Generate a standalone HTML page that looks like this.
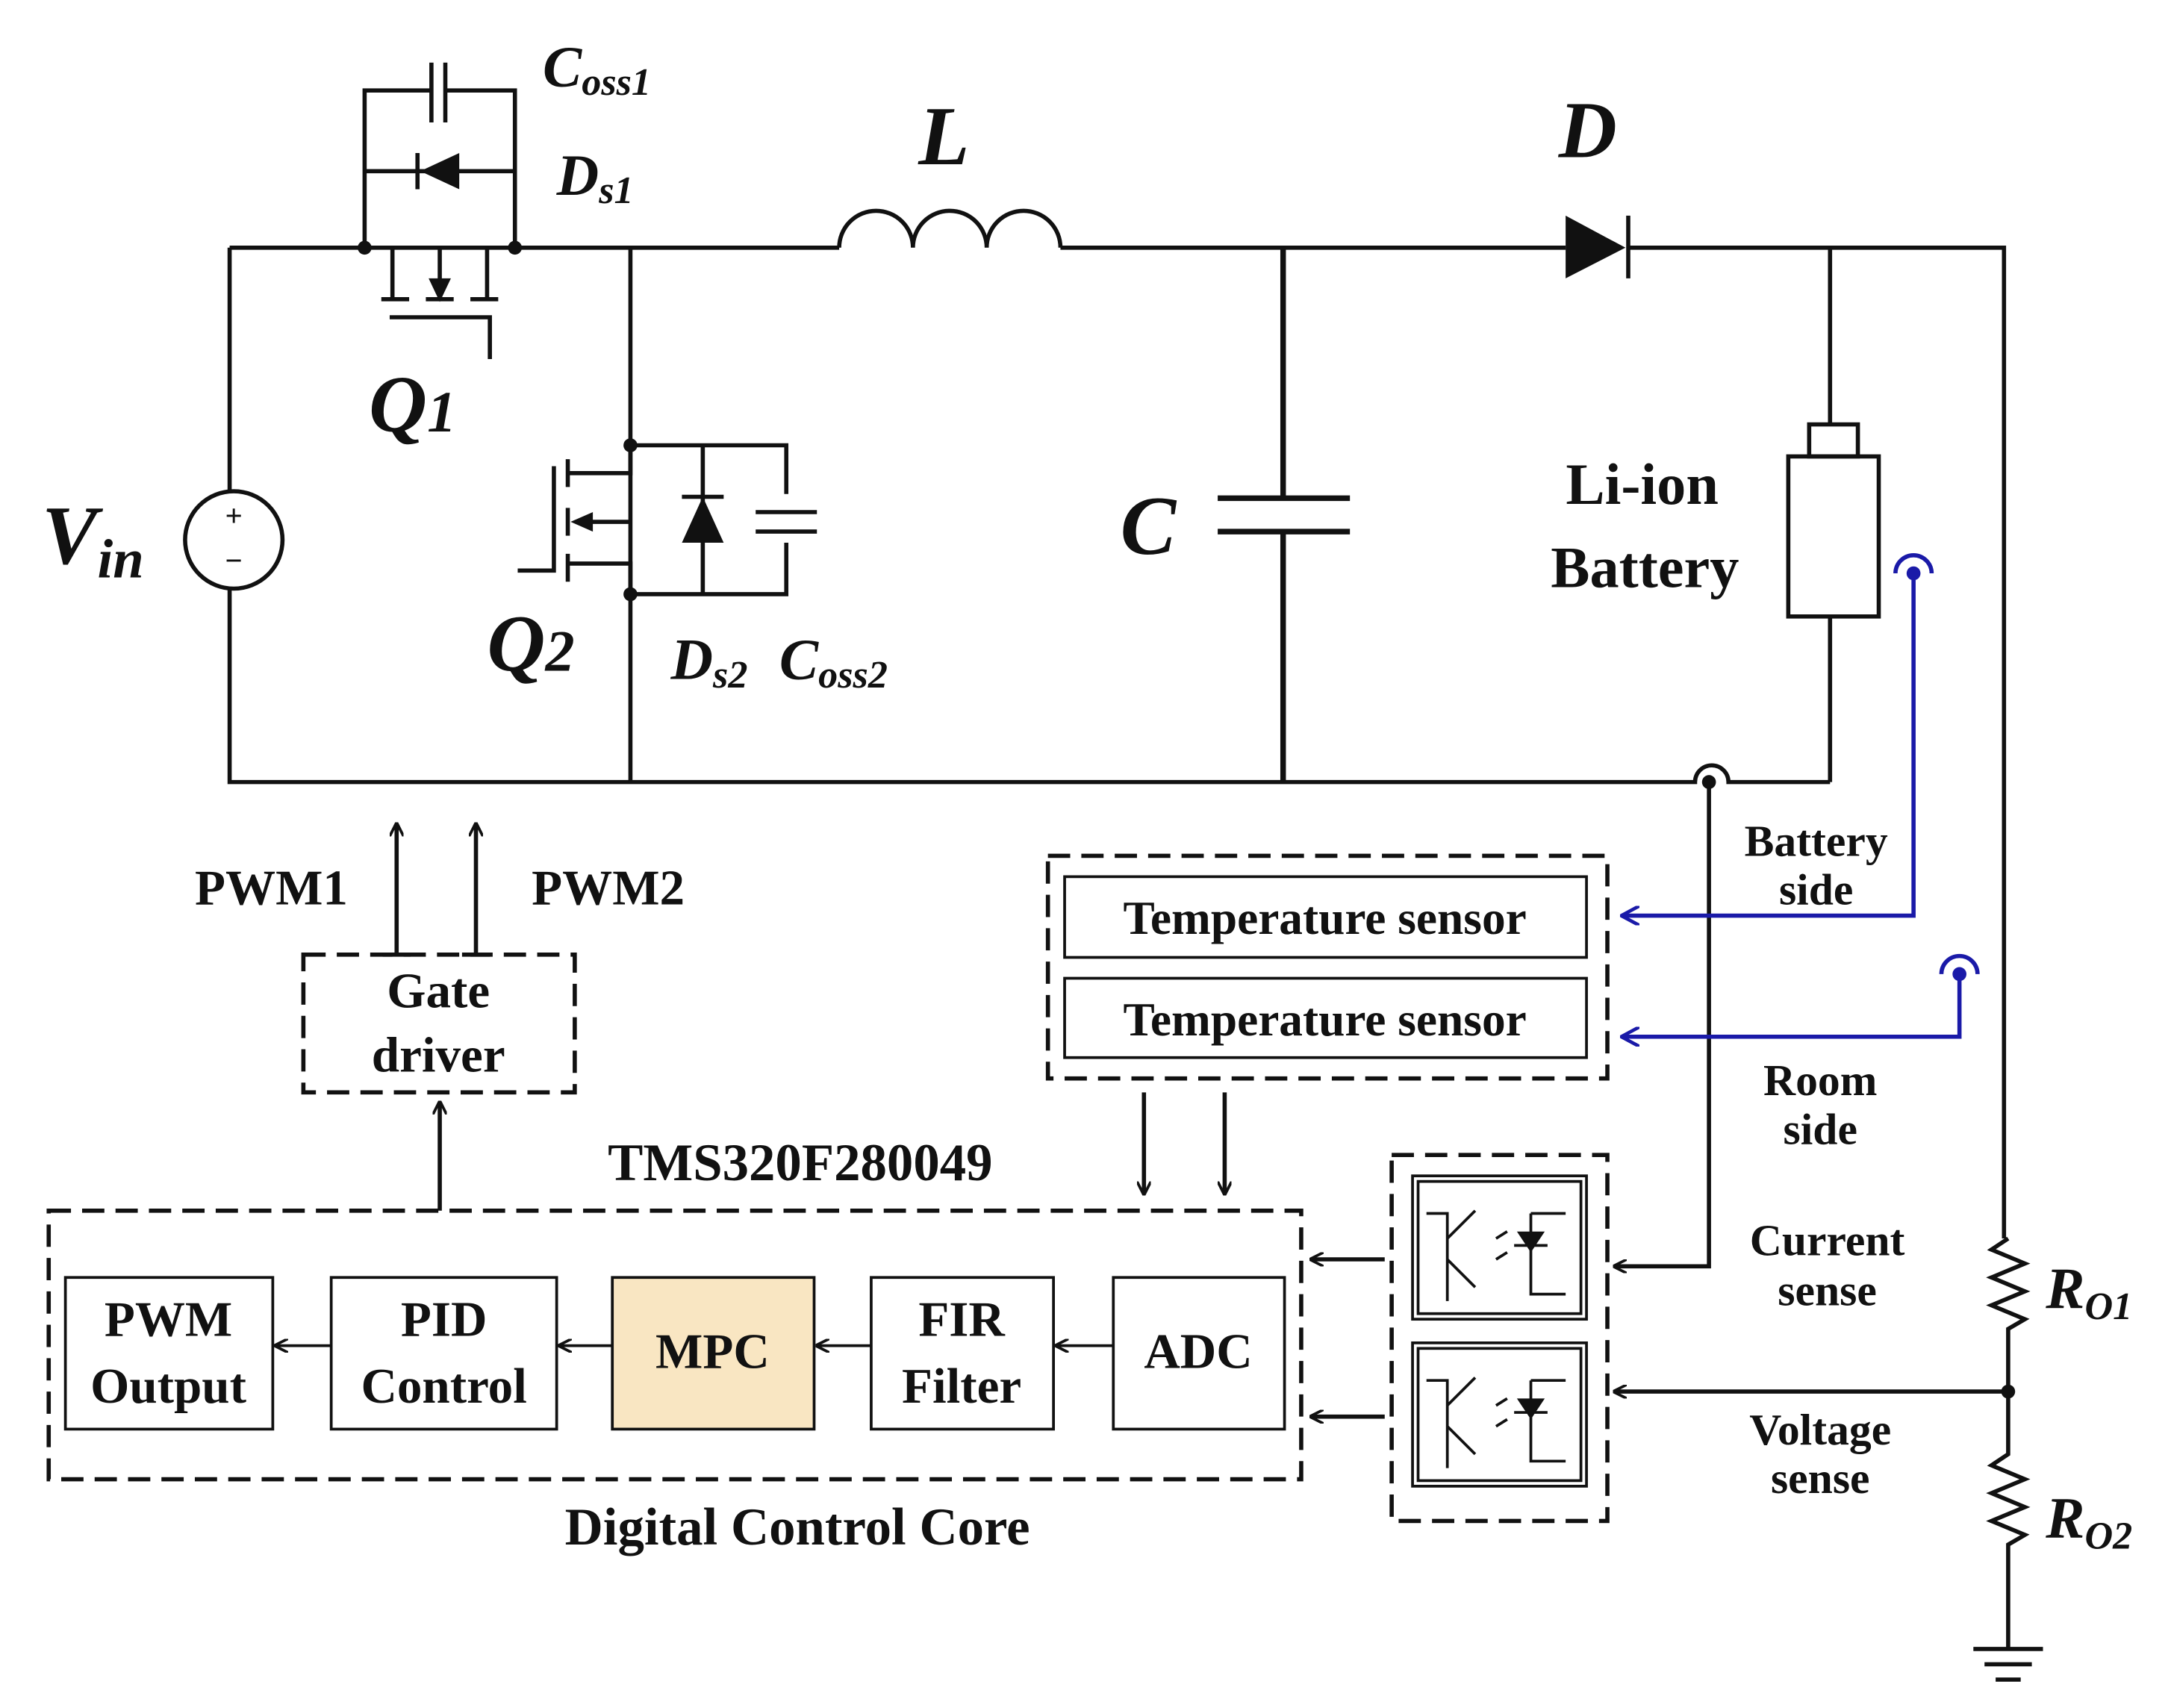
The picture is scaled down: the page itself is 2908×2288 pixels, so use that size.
<!DOCTYPE html>
<html><head><meta charset="utf-8"><style>
html,body{margin:0;padding:0;background:#fff}
svg{display:block}
text{font-family:"Liberation Serif",serif;font-weight:bold;fill:#111}
</style></head><body>
<svg width="2908" height="2288" viewBox="0 0 1560 1227.4" xmlns="http://www.w3.org/2000/svg">
<defs>
<marker id="ah" markerWidth="10" markerHeight="10" refX="9" refY="5" orient="auto" markerUnits="userSpaceOnUse"><path d="M0,0 L10,5 L0,10" fill="none" stroke="#111" stroke-width="2"/></marker>
<marker id="bh" markerWidth="14" markerHeight="14" refX="13" refY="7" orient="auto" markerUnits="userSpaceOnUse"><path d="M0,0 L13,7 L0,14" fill="none" stroke="#1a1aa8" stroke-width="2.5"/></marker>
</defs>
<g stroke="#111" stroke-width="3" fill="none">
<!-- main wires -->
<path d="M165,178 H603"/>
<path d="M762,178 H1125"/>
<path d="M1170,178 H1440 V890"/>
<path d="M165,178 V353 M165,423 V562 H1218 A12,12 0 0 1 1242,562 H1315"/>
<circle cx="168" cy="388" r="35"/>
<!-- Q1 -->
<path d="M262,178 V65 H310 M320,65 H370 V178"/>
<path d="M310,45 V88 M320,45 V88" stroke-width="3"/>
<path d="M262,123 H370"/>
<path d="M300,110 V136"/>
<path d="M282,178 V215 M350,178 V215 M316,178 V205"/>
<path d="M274,215 H294 M306,215 H326 M338,215 H358"/>
<path d="M280,228 H352 V258"/>
<!-- Q2 -->
<path d="M453,178 V562"/>
<path d="M453,320 H565 V355 M565,390 V427 H453"/>
<path d="M543,368 H587 M543,382 H587"/>
<path d="M505,320 V427 M490,357 H520"/>
<path d="M408,330 V350 M408,365 V385 M408,398 V418"/>
<path d="M398,335 V410 H372"/>
<path d="M408,340 H453 V320 M408,405 H453 V427 M453,375 H418"/>
<!-- inductor -->
<path d="M603,178 A26,26 0 0 1 656,178 A26,26 0 0 1 709,178 A26,26 0 0 1 762,178"/>
<!-- C -->
<path d="M922,178 V358 M922,382 V562 M875,358 H970 M875,382 H970" stroke-width="4"/>
<!-- diode D -->
<path d="M1170,155 V200"/>
<!-- battery -->
<path d="M1315,178 V305 M1315,443 V562"/>
<rect x="1300" y="305" width="35" height="23"/>
<rect x="1285" y="328" width="65" height="115"/>
<!-- resistors -->
<path d="M1443,890 l-12,8 24,10 -24,10 24,10 -24,10 24,10 -12,7 V1045 l-12,8 24,10 -24,10 24,10 -24,10 24,10 -12,7 V1185"/>
<path d="M1418,1185 H1468 M1426,1196 H1460 M1434,1207 H1452"/>
<!-- sense lines -->
<path d="M1228,562 V910 H1160" marker-end="url(#ah)"/>
<path d="M1443,1000 H1160" marker-end="url(#ah)"/>
</g>
<g fill="#111">
<circle cx="262" cy="178" r="5"/><circle cx="370" cy="178" r="5"/>
<circle cx="453" cy="320" r="5"/><circle cx="453" cy="427" r="5"/>
<circle cx="1228" cy="562" r="5"/><circle cx="1443" cy="1000" r="5"/>
<path d="M302,123 L330,110 V136 Z"/>
<path d="M316,217 L308,200 H324 Z"/>
<path d="M410,375 L426,368 V382 Z"/>
<path d="M505,357 L490,390 H520 Z"/>
<path d="M1125,155 L1168,178 L1125,200 Z"/>
</g>
<!-- vin sign -->
<text x="168" y="378" font-size="22" text-anchor="middle" font-weight="normal">+</text>
<text x="168" y="410" font-size="22" text-anchor="middle" font-weight="normal">−</text>
<!-- labels circuit -->
<g font-style="italic">
<text x="30" y="405" font-size="60">V<tspan font-size="40" dy="10">in</tspan></text>
<text x="390" y="62" font-size="42">C<tspan font-size="28" dy="6">oss1</tspan></text>
<text x="400" y="140" font-size="42">D<tspan font-size="28" dy="6">s1</tspan></text>
<text x="265" y="310" font-size="58">Q<tspan font-size="42" dy="0">1</tspan></text>
<text x="350" y="482" font-size="58">Q<tspan font-size="42">2</tspan></text>
<text x="482" y="488" font-size="42">D<tspan font-size="28" dy="6">s2</tspan></text>
<text x="560" y="488" font-size="42">C<tspan font-size="28" dy="6">oss2</tspan></text>
<text x="660" y="118" font-size="60">L</text>
<text x="1120" y="113" font-size="58">D</text>
<text x="805" y="398" font-size="60">C</text>
<text x="1470" y="940" font-size="42">R<tspan font-size="28" dy="8">O1</tspan></text>
<text x="1470" y="1105" font-size="42">R<tspan font-size="28" dy="8">O2</tspan></text>
</g>
<text x="1180" y="362" font-size="42" text-anchor="middle">Li-ion</text>
<text x="1182" y="422" font-size="42" text-anchor="middle">Battery</text>
<!-- blue antennas -->
<g stroke="#1a1aa8" stroke-width="3" fill="none">
<path d="M1375,412 V658 H1165" marker-end="url(#bh)"/>
<path d="M1408,700 V745 H1165" marker-end="url(#bh)"/>
<path d="M1362,412 A13,13 0 0 1 1388,412"/>
<path d="M1395,700 A13,13 0 0 1 1421,700"/>
</g>
<circle cx="1375" cy="412" r="5" fill="#1a1aa8"/><circle cx="1408" cy="700" r="5" fill="#1a1aa8"/>
<!-- side labels -->
<g font-size="32" text-anchor="middle">
<text x="1305" y="615">Battery</text><text x="1305" y="650">side</text>
<text x="1308" y="787">Room</text><text x="1308" y="822">side</text>
<text x="1313" y="902">Current</text><text x="1313" y="938">sense</text>
<text x="1308" y="1038">Voltage</text><text x="1308" y="1073">sense</text>
</g>
<!-- dashed boxes -->
<g stroke="#111" stroke-width="3" fill="none" stroke-dasharray="16,8">
<rect x="753" y="615" width="402" height="160"/>
<rect x="1000" y="830" width="155" height="263"/>
<rect x="35" y="870" width="900" height="193"/>
<rect x="218" y="686" width="195" height="99"/>
</g>
<g stroke="#111" stroke-width="2" fill="none">
<rect x="765" y="630" width="375" height="58"/>
<rect x="765" y="703" width="375" height="57"/>
<rect x="1015" y="845" width="125" height="103"/>
<rect x="1015" y="965" width="125" height="103"/>
</g>
<g stroke="#111" stroke-width="2" fill="none">
<rect x="1019" y="849" width="117" height="95"/>
<rect x="1019" y="969" width="117" height="95"/>
</g>
<text x="952" y="671" font-size="34" text-anchor="middle">Temperature sensor</text>
<text x="952" y="744" font-size="34" text-anchor="middle">Temperature sensor</text>
<!-- optocouplers -->
<g stroke="#111" stroke-width="2" fill="none">
<path d="M1025,872 H1040 V935 M1040,890 L1060,870 M1040,905 L1060,925 M1075,890 l8,-5 M1075,905 l8,-5 M1100,872 V930 H1125 M1088,895 H1112 M1100,872 H1125"/>
<path d="M1025,992 H1040 V1055 M1040,1010 L1060,990 M1040,1025 L1060,1045 M1075,1010 l8,-5 M1075,1025 l8,-5 M1100,992 V1050 H1125 M1088,1015 H1112 M1100,992 H1125"/>
</g>
<path d="M1090,885 H1110 L1100,900 Z M1090,1005 H1110 L1100,1020 Z" fill="#111"/>
<!-- arrows -->
<g stroke="#111" stroke-width="3" fill="none">
<path d="M822,785 V858" marker-end="url(#ah)"/>
<path d="M880,785 V858" marker-end="url(#ah)"/>
<path d="M995,905 H942" marker-end="url(#ah)"/>
<path d="M995,1018 H942" marker-end="url(#ah)"/>
<path d="M316,870 V792" marker-end="url(#ah)"/>
<path d="M285,686 V592" marker-end="url(#ah)"/>
<path d="M342,686 V592" marker-end="url(#ah)"/>
<path d="M275,686 H295 M332,686 H352"/>
</g>
<g stroke="#111" stroke-width="2" fill="none">
<path d="M238,967 H198" marker-end="url(#ah)"/>
<path d="M440,967 H402" marker-end="url(#ah)"/>
<path d="M626,967 H587" marker-end="url(#ah)"/>
<path d="M800,967 H759" marker-end="url(#ah)"/>
</g>
<text x="195" y="650" font-size="36" text-anchor="middle">PWM1</text>
<text x="437" y="650" font-size="36" text-anchor="middle">PWM2</text>
<text x="315" y="724" font-size="36" text-anchor="middle" font-weight="normal">Gate</text>
<text x="315" y="770" font-size="36" text-anchor="middle" font-weight="normal">driver</text>
<text x="575" y="848" font-size="38" text-anchor="middle">TMS320F280049</text>
<text x="573" y="1110" font-size="38" text-anchor="middle">Digital Control Core</text>
<!-- blocks -->
<g stroke="#111" stroke-width="2">
<rect x="47" y="918" width="149" height="109" fill="#fff"/>
<rect x="238" y="918" width="162" height="109" fill="#fff"/>
<rect x="440" y="918" width="145" height="109" fill="#f9e6c2"/>
<rect x="626" y="918" width="131" height="109" fill="#fff"/>
<rect x="800" y="918" width="123" height="109" fill="#fff"/>
</g>
<g font-size="36" text-anchor="middle">
<text x="121" y="960">PWM</text><text x="121" y="1008">Output</text>
<text x="319" y="960">PID</text><text x="319" y="1008">Control</text>
<text x="512" y="983">MPC</text>
<text x="691" y="960">FIR</text><text x="691" y="1008">Filter</text>
<text x="861" y="983">ADC</text>
</g>
</svg>
</body></html>
